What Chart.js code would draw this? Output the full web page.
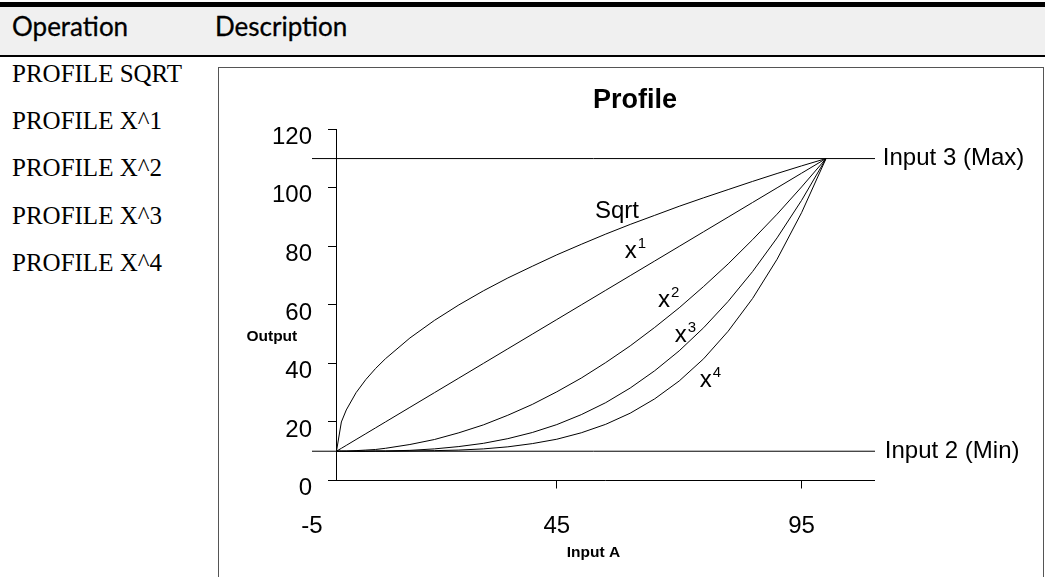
<!DOCTYPE html>
<html>
<head>
<meta charset="utf-8">
<script src="https://cdn.jsdelivr.net/npm/chart.js@4/dist/chart.umd.min.js"></script>
<style>
html,body{margin:0;padding:0;background:#fff;}
body{width:1045px;height:577px;overflow:hidden;position:relative;}
#topRule{position:absolute;left:0;top:2px;width:1045px;height:5px;background:#000;}
#head{position:absolute;left:0;top:7px;width:1045px;height:48px;background:#f0f0f0;}
#headRule{position:absolute;left:0;top:55px;width:1045px;height:2px;background:#000;}
.hd{position:absolute;top:11px;font-family:Lato,"Open Sans",sans-serif;font-size:26px;line-height:30px;color:#000;white-space:nowrap;-webkit-text-stroke:0.3px #000;}
.op{position:absolute;left:12px;font-family:"Liberation Serif","Times New Roman",serif;font-size:25px;line-height:30px;color:#000;white-space:nowrap;}
#box{position:absolute;left:218px;top:67px;width:826px;height:530px;border:1px solid #555;box-sizing:border-box;}
#wrap{position:absolute;left:0;top:0;width:824px;height:509px;}
</style>
</head>
<body>
<div id="topRule"></div>
<div id="head"></div>
<div id="headRule"></div>
<div class="hd" style="left:12px">Operation</div>
<div class="hd" style="left:215px">Description</div>
<div class="op" style="top:59px">PROFILE SQRT</div>
<div class="op" style="top:106px">PROFILE X^1</div>
<div class="op" style="top:153px">PROFILE X^2</div>
<div class="op" style="top:201px">PROFILE X^3</div>
<div class="op" style="top:248px">PROFILE X^4</div>
<div id="box"><div id="wrap"><canvas id="c"></canvas></div></div>
<script>
// ---- data ----
const inputA   = [0, 1, 2, 4, 6, 8, 10, 15, 20, 25, 30, 35, 40, 45, 50, 55, 60, 65, 70, 75, 80, 85, 90, 95, 100];
const sqrtOut  = [10, 20, 24.1, 30, 34.5, 38.3, 41.6, 48.7, 54.7, 60, 64.8, 69.2, 73.2, 77.1, 80.7, 84.2, 87.5, 90.6, 93.7, 96.6, 99.4, 102.2, 104.9, 107.5, 110];
const x1Out    = [10, 11, 12, 14, 16, 18, 20, 25, 30, 35, 40, 45, 50, 55, 60, 65, 70, 75, 80, 85, 90, 95, 100, 105, 110];
const x2Out    = [10, 10, 10, 10.2, 10.4, 10.6, 11, 12.3, 14, 16.3, 19, 22.3, 26, 30.3, 35, 40.3, 46, 52.3, 59, 66.3, 74, 82.3, 91, 100.3, 110];
const x3Out    = [10, 10, 10, 10, 10, 10.1, 10.1, 10.3, 10.8, 11.6, 12.7, 14.3, 16.4, 19.1, 22.5, 26.6, 31.6, 37.5, 44.3, 52.2, 61.2, 71.4, 82.9, 95.7, 110];
const x4Out    = [10, 10, 10, 10, 10, 10, 10, 10.1, 10.2, 10.4, 10.8, 11.5, 12.6, 14.1, 16.3, 19.2, 23, 27.9, 34, 41.6, 51, 62.2, 75.6, 91.5, 110];
const inputMax = 110;           // Input 3 (Max)
const inputMin = 10;            // Input 2 (Min)
const limitSpan = [-5, 110];    // x extent of the Max / Min lines
const xAxisSpan = [0, 110];     // x extent of the drawn x axis line
const xTicks = [-5, 45, 95];
const yTicks = [0, 20, 40, 60, 80, 100, 120];

const pts = (xs, ys) => xs.map((x, i) => ({x: x, y: ys[i]}));
const black = '#000';
const lineDs = (data) => ({data, borderColor: black, borderWidth: 1, pointRadius: 0, tension: 0, fill: false, clip: false});

// ---- text annotations (positions in data units) ----
const notes = [
  {text: 'Sqrt', x: 52.8, y: 89.7},
  {text: 'x', sup: '1', x: 58.9, y: 76.0},
  {text: 'x', sup: '2', x: 65.7, y: 59.3},
  {text: 'x', sup: '3', x: 69.1, y: 47.3},
  {text: 'x', sup: '4', x: 74.2, y: 31.9},
  {text: 'Input 3 (Max)', x: 111.6, y: inputMax, mid: true},
  {text: 'Input 2 (Min)', x: 112.0, y: inputMin, mid: true}
];

const FONT = '"Liberation Sans", Arial, sans-serif';
const notePlugin = {
  id: 'notes',
  afterDraw(chart) {
    const {ctx, scales: {x, y}} = chart;
    ctx.save();
    ctx.fillStyle = black;
    ctx.font = 'bold 27px ' + FONT;
    ctx.textAlign = 'center';
    ctx.textBaseline = 'middle';
    ctx.fillText('Profile', chart.width / 2 + 4, 33);
    ctx.font = 'bold 15.5px ' + FONT;
    ctx.fillText('Output', x.getPixelForValue(-13.2), y.getPixelForValue(49));
    ctx.textAlign = 'left';
    notes.forEach(n => {
      const px = x.getPixelForValue(n.x), py = y.getPixelForValue(n.y);
      ctx.font = '24px ' + FONT;
      ctx.textBaseline = n.mid ? 'middle' : 'alphabetic';
      ctx.fillText(n.text, px, py);
      if (n.sup) {
        const w = ctx.measureText(n.text).width;
        ctx.font = '15px ' + FONT;
        ctx.textBaseline = 'alphabetic';
        ctx.fillText(n.sup, px + w + 1, py - 10);
      }
    });
    ctx.restore();
  }
};

new Chart(document.getElementById('c'), {
  type: 'line',
  data: {
    datasets: [
      lineDs(pts(inputA, sqrtOut)),
      lineDs(pts(inputA, x1Out)),
      lineDs(pts(inputA, x2Out)),
      lineDs(pts(inputA, x3Out)),
      lineDs(pts(inputA, x4Out)),
      lineDs(pts(limitSpan, [inputMax, inputMax])),
      lineDs(pts(limitSpan, [inputMin, inputMin])),
      lineDs(pts(xAxisSpan, [0, 0]))
    ]
  },
  options: {
    responsive: true,
    maintainAspectRatio: false,
    animation: false,
    events: [],
    layout: {padding: {left: 0, right: 168, top: 61.3, bottom: 0}},
    plugins: {legend: {display: false}, tooltip: {enabled: false}, title: {display: false}},
    scales: {
      x: {
        type: 'linear',
        min: -5, max: 110,
        afterBuildTicks: s => { s.ticks = xTicks.map(v => ({value: v})); },
        afterFit: s => { s.height = 96.5; },
        border: {display: false},
        grid: {drawOnChartArea: false, drawTicks: true, tickLength: 8,
               tickColor: c => (c.tick && c.tick.value === -5) ? 'rgba(0,0,0,0)' : black},
        ticks: {color: black, font: {family: FONT, size: 24}, padding: 23, maxRotation: 0, autoSkip: false},
        title: {display: true, text: 'Input A', color: black, font: {family: FONT, size: 15.5, weight: 'bold'}, padding: {top: 0, bottom: 15}}
      },
      // y axis line + tick marks, crossing the x axis at Input A = 0
      y: {
        type: 'linear',
        position: {x: 0},
        min: 0, max: 120,
        afterBuildTicks: s => { s.ticks = yTicks.map(v => ({value: v})); },
        border: {display: true, color: black, width: 1},
        grid: {drawOnChartArea: false, drawTicks: true, tickLength: 8, tickColor: black},
        ticks: {display: false}
      },
      // y tick labels, set at the left edge of the plot
      yLabels: {
        type: 'linear',
        axis: 'y',
        position: 'left',
        min: 0, max: 120,
        afterBuildTicks: s => { s.ticks = yTicks.map(v => ({value: v})); },
        afterFit: s => { s.width = 93; },
        border: {display: false},
        grid: {display: false, drawTicks: false},
        ticks: {color: black, font: {family: FONT, size: 24}, padding: 0, labelOffset: 8, autoSkip: false}
      }
    }
  },
  plugins: [notePlugin]
});
</script>
</body>
</html>
